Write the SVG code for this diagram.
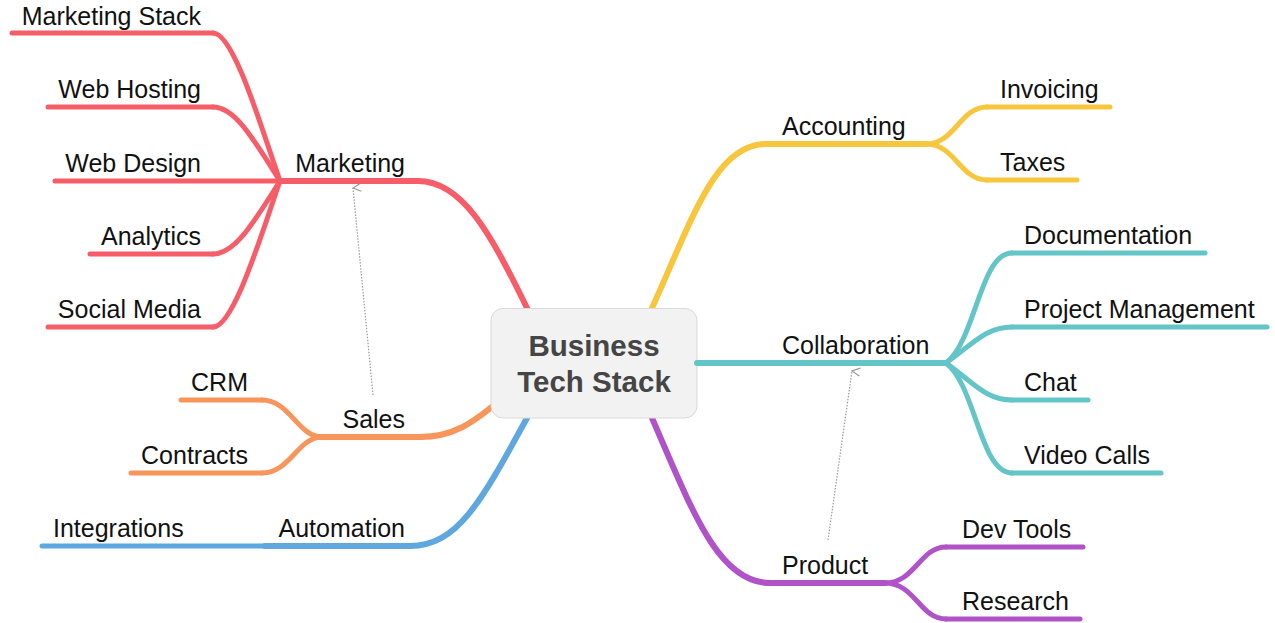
<svg xmlns="http://www.w3.org/2000/svg" width="1275" height="623" viewBox="0 0 1275 623">
<defs>
<style>
text{font-family:"Liberation Sans",Arial,Helvetica,sans-serif;font-size:25px;fill:#111}
.e{text-anchor:end}
.ln{fill:none;stroke-linecap:round;stroke-linejoin:round}
.m{stroke-width:6}
.c{stroke-width:5}
.red{stroke:#f65d68}
.org{stroke:#f7955a}
.blu{stroke:#5fa8df}
.yel{stroke:#f8c63c}
.tea{stroke:#63c5c8}
.pur{stroke:#b052c8}
.rel{fill:none;stroke:#9a9a9a;stroke-width:1.2;stroke-dasharray:1.5 1.5}
.title{font-size:29.5px;font-weight:bold;fill:#454545;text-anchor:middle}
</style>
<marker id="open" viewBox="0 0 10 10" refX="5" refY="1" markerWidth="10" markerHeight="10" markerUnits="userSpaceOnUse" orient="auto-start-reverse">
<path d="M1,9 L5,1 L9,9" fill="none" stroke="#9a9a9a" stroke-width="1.2"/>
</marker>
</defs>
<rect width="1275" height="623" fill="#ffffff"/>
<g id="connectors">
<path class="ln m red" d="M418,181 C462,181 490,232 528,310"/>
<path class="ln c red" d="M213,33 C234,33 262,130 280,181"/>
<path class="ln c red" d="M213,107 C236,107 255,142 280,181"/>
<path class="ln c red" d="M213,254 C236,254 255,220 280,181"/>
<path class="ln c red" d="M213,327 C234,327 262,232 280,181"/>
<path class="ln m org" d="M420,437 C452,437 472,424 500,400"/>
<path class="ln c org" d="M262,400 C290,400 298,437 322,437"/>
<path class="ln c org" d="M262,473 C290,473 298,437 322,437"/>
<path class="ln m blu" d="M410,546 C458,546 482,500 527,418"/>
<path class="ln m yel" d="M652,308 C692,220 715,144 766,144"/>
<path class="ln c yel" d="M926,144 C955,144 960,107 987,107"/>
<path class="ln c yel" d="M926,144 C955,144 960,180 987,180"/>
<path class="ln c tea" d="M946,363 C976,340 980,253 1012,253"/>
<path class="ln c tea" d="M946,363 C972,345 985,327 1012,327"/>
<path class="ln c tea" d="M946,363 C972,381 985,400 1012,400"/>
<path class="ln c tea" d="M946,363 C976,386 980,473 1012,473"/>
<path class="ln m pur" d="M652,418 C692,510 718,583 770,583"/>
<path class="ln c pur" d="M885,583 C915,583 920,547 946,547"/>
<path class="ln c pur" d="M885,583 C915,583 920,619 946,619"/>
<path class="rel" d="M373,395 L353,188" marker-end="url(#open)"/>
<path class="rel" d="M828,540 L852,371" marker-end="url(#open)"/>
</g>
<g id="center">
<rect x="491" y="308.5" width="206" height="109.5" rx="12" fill="#f2f2f2" stroke="#d9d9d9" stroke-width="1"/>
<text class="title" x="594" y="356">Business</text>
<text class="title" x="594" y="392">Tech Stack</text>
</g>
<g id="marketing"><path class="ln m red" d="M280,181 H418"/><text class="e" x="405" y="172">Marketing</text></g>
<g id="marketing-stack"><path class="ln c red" d="M12,33 H213"/><text class="e" x="201" y="25">Marketing Stack</text></g>
<g id="web-hosting"><path class="ln c red" d="M48,107 H213"/><text class="e" x="201" y="98">Web Hosting</text></g>
<g id="web-design"><path class="ln c red" d="M55,181 H280"/><text class="e" x="201" y="172">Web Design</text></g>
<g id="analytics"><path class="ln c red" d="M90,254 H213"/><text class="e" x="201" y="245">Analytics</text></g>
<g id="social-media"><path class="ln c red" d="M48,327 H213"/><text class="e" x="201" y="318">Social Media</text></g>
<g id="sales"><path class="ln m org" d="M320,437 H420"/><text class="e" x="405" y="428">Sales</text></g>
<g id="crm"><path class="ln c org" d="M181,400 H262"/><text class="e" x="248" y="391">CRM</text></g>
<g id="contracts"><path class="ln c org" d="M131,473 H262"/><text class="e" x="248" y="464">Contracts</text></g>
<g id="automation"><path class="ln m blu" d="M265,546 H410"/><text class="e" x="405" y="537">Automation</text></g>
<g id="integrations"><path class="ln c blu" d="M42,546 H265"/><text x="53" y="537">Integrations</text></g>
<g id="accounting"><path class="ln m yel" d="M766,144 H926"/><text x="782" y="135">Accounting</text></g>
<g id="invoicing"><path class="ln c yel" d="M987,107 H1110"/><text x="1000" y="98">Invoicing</text></g>
<g id="taxes"><path class="ln c yel" d="M987,180 H1077"/><text x="1000" y="171">Taxes</text></g>
<g id="collaboration"><path class="ln m tea" d="M697,363 H946"/><text x="782" y="354">Collaboration</text></g>
<g id="documentation"><path class="ln c tea" d="M1012,253 H1205"/><text x="1024" y="244">Documentation</text></g>
<g id="project-management"><path class="ln c tea" d="M1012,327 H1267"/><text x="1024" y="318">Project Management</text></g>
<g id="chat"><path class="ln c tea" d="M1012,400 H1088"/><text x="1024" y="391">Chat</text></g>
<g id="video-calls"><path class="ln c tea" d="M1012,473 H1161"/><text x="1024" y="464">Video Calls</text></g>
<g id="product"><path class="ln m pur" d="M770,583 H885"/><text x="782" y="574">Product</text></g>
<g id="dev-tools"><path class="ln c pur" d="M946,547 H1083"/><text x="962" y="538">Dev Tools</text></g>
<g id="research"><path class="ln c pur" d="M946,619 H1080"/><text x="962" y="610">Research</text></g>
</svg>
